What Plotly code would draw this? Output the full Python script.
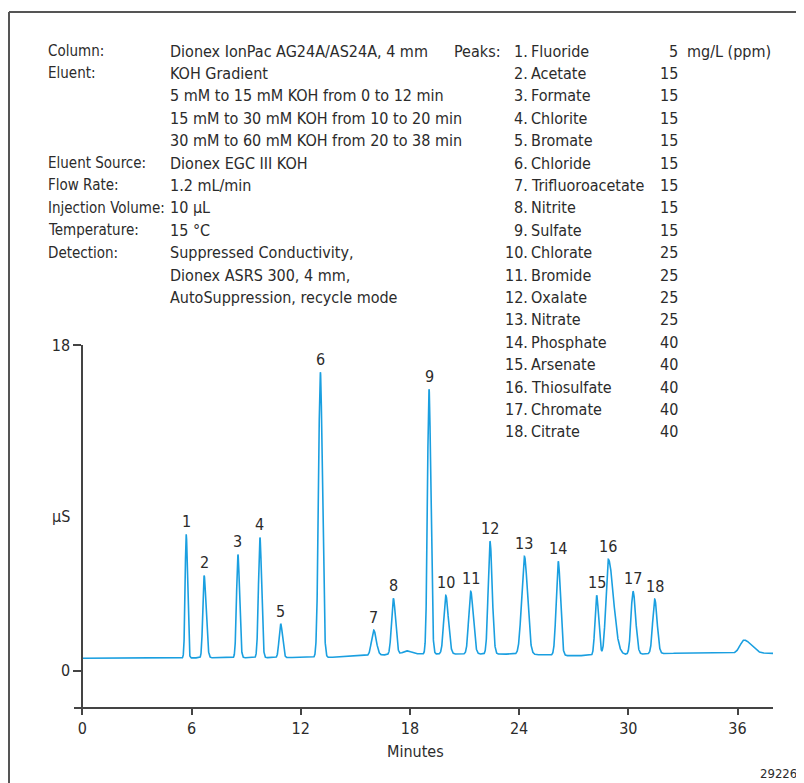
import numpy as np
import plotly.graph_objects as go

# ---------------- data ----------------
peak_labels = ["1", "2", "3", "4", "5", "6", "7", "8", "", "9", "10", "11", "12",
               "13", "14", "15", "16", "17", "18", ""]
peak_times = [5.71, 6.69, 8.55, 9.76, 10.90, 13.08, 16.01, 17.09, 17.82, 19.05,
              19.97, 21.34, 22.40, 24.29, 26.15, 28.26, 28.90, 30.26, 31.45, 36.36]
peak_apex = [7.54, 5.27, 6.43, 7.37, 2.60, 16.50, 2.25, 4.00, 1.10, 15.56,
             4.17, 4.39, 7.15, 6.32, 6.05, 4.17, 6.16, 4.39, 3.96, 1.70]
sigma_left = [0.06, 0.07, 0.075, 0.08, 0.085, 0.10, 0.12, 0.10, 0.20, 0.085,
              0.11, 0.11, 0.10, 0.15, 0.11, 0.09, 0.13, 0.11, 0.11, 0.22]
sigma_right = [0.07, 0.11, 0.09, 0.09, 0.10, 0.11, 0.14, 0.12, 0.25, 0.10,
               0.14, 0.14, 0.12, 0.17, 0.12, 0.11, 0.28, 0.14, 0.13, 0.40]

baseline_times = [0.0, 13.5, 17.5, 18.5, 24.0, 27.0, 33.0, 38.0]
baseline_levels = [0.69, 0.74, 0.92, 0.93, 0.92, 0.83, 0.98, 0.96]

x_ticks = [0, 6, 12, 18, 24, 30, 36]
y_ticks = [0, 18]

cond_labels = ["Column:", "Eluent:", "", "", "", "Eluent Source:", "Flow Rate:",
               "Injection Volume:", "Temperature:", "Detection:", "", ""]
cond_values = ["Dionex IonPac AG24A/AS24A, 4 mm", "KOH Gradient",
               "5 mM to 15 mM KOH from 0 to 12 min",
               "15 mM to 30 mM KOH from 10 to 20 min",
               "30 mM to 60 mM KOH from 20 to 38 min",
               "Dionex EGC III KOH", "1.2 mL/min", "10 µL", "15 °C",
               "Suppressed Conductivity,", "Dionex ASRS 300, 4 mm,",
               "AutoSuppression, recycle mode"]

analyte_names = ["Fluoride", "Acetate", "Formate", "Chlorite", "Bromate", "Chloride",
                 "Trifluoroacetate", "Nitrite", "Sulfate", "Chlorate", "Bromide",
                 "Oxalate", "Nitrate", "Phosphate", "Arsenate", "Thiosulfate",
                 "Chromate", "Citrate"]
analyte_conc = ["5", "15", "15", "15", "15", "15", "15", "15", "15", "25", "25",
                "25", "25", "40", "40", "40", "40", "40"]

# ---------------- build trace ----------------
t = np.linspace(0, 38, 7601)
base = np.interp(t, baseline_times, baseline_levels)
y = base.copy()
for tr, ap, sl, sr in zip(peak_times, peak_apex, sigma_left, sigma_right):
    amp = ap - np.interp(tr, baseline_times, baseline_levels)
    s = np.where(t < tr, sl, sr)
    y += amp * np.exp(-((t - tr) ** 2) / (2 * s ** 2))

# ---------------- layout helpers (reference-pixel coordinates) ----------------
OFF = 8                      # page body margin shifts the figure by 8 px
W_REF, H_REF = 804, 783
L, R, T, B = 74, 773, 345, 707
XMIN, XMAX = -0.456, 37.95
YMIN, YMAX = -2.0, 18.0

def px(xp):
    return (xp - L) / (R - L)

def py(yp):
    return (B - yp) / (B - T)

FONT = "Liberation Sans Narrow, DejaVu Sans Condensed, Arial Narrow, sans-serif"
FS = 16
TXT = "#2b2b2b"
LINE = "#444444"

fig = go.Figure()
fig.add_trace(go.Scatter(x=t, y=y, mode="lines",
                         line=dict(color="#1a9fe0", width=1.6),
                         hoverinfo="skip", showlegend=False))

def note(x, y, text, xanchor="left", size=FS, xref="paper", yref="paper", **kw):
    return dict(x=x, y=y, xref=xref, yref=yref, text=text, showarrow=False,
                xanchor=xanchor, yanchor=kw.pop("yanchor", "middle"),
                font=dict(size=size, color=TXT, family=FONT), **kw)

ann = []
for lab, tr, ap in zip(peak_labels, peak_times, peak_apex):
    if lab:
        ann.append(note(tr, ap, lab, xanchor="center", xref="x", yref="y",
                        yanchor="bottom", yshift=1))

row0, dy = 51.0, 22.4
for i, (lab, val) in enumerate(zip(cond_labels, cond_values)):
    yy = py(row0 + dy * i)
    if lab:
        ann.append(note(px(46), yy, lab, size=15))
    ann.append(note(px(168), yy, val))

ann.append(note(px(452), py(row0), "Peaks:"))
for i, (nm, c) in enumerate(zip(analyte_names, analyte_conc)):
    yy = py(row0 + dy * i)
    ann.append(note(px(530), yy, f"{i + 1}.", xanchor="right"))
    ann.append(note(px(529), yy, nm))
    ann.append(note(px(680), yy, c, xanchor="right"))
ann.append(note(px(685), py(row0), "mg/L (ppm)"))

ann.append(note(px(61), py(516), "µS", xanchor="center"))
ann.append(note(px(415), py(751), "Minutes", xanchor="center"))
ann.append(note(px(799), py(773), "29226", xanchor="right", size=13))

shapes = [
    dict(type="line", xref="paper", yref="paper", x0=px(9), x1=px(804),
         y0=py(12), y1=py(12), line=dict(color="#555555", width=2)),
    dict(type="line", xref="paper", yref="paper", x0=px(9), x1=px(9),
         y0=py(12), y1=py(783), line=dict(color="#555555", width=2)),
]

fig.update_layout(
    width=W_REF - OFF, height=H_REF - OFF,
    margin=dict(l=L - OFF, r=W_REF - R, t=T - OFF, b=H_REF - B, pad=0),
    paper_bgcolor="white", plot_bgcolor="white",
    annotations=ann, shapes=shapes,
    font=dict(family=FONT, size=FS, color=TXT),
    xaxis=dict(range=[XMIN, XMAX], tickvals=x_ticks, ticks="outside", ticklen=6,
               tickwidth=2, tickcolor=LINE, showline=True, linecolor=LINE,
               linewidth=2, showgrid=False, zeroline=False,
               tickfont=dict(size=FS, color=TXT, family=FONT), fixedrange=True),
    yaxis=dict(range=[YMIN, YMAX], tickvals=y_ticks, ticks="outside", ticklen=8,
               tickwidth=2, tickcolor=LINE, showline=True, linecolor=LINE,
               linewidth=2, showgrid=False, zeroline=False, anchor="free",
               position=(0 - XMIN) / (XMAX - XMIN),
               tickfont=dict(size=FS, color=TXT, family=FONT), fixedrange=True),
)

fig.write_html("out.html")
